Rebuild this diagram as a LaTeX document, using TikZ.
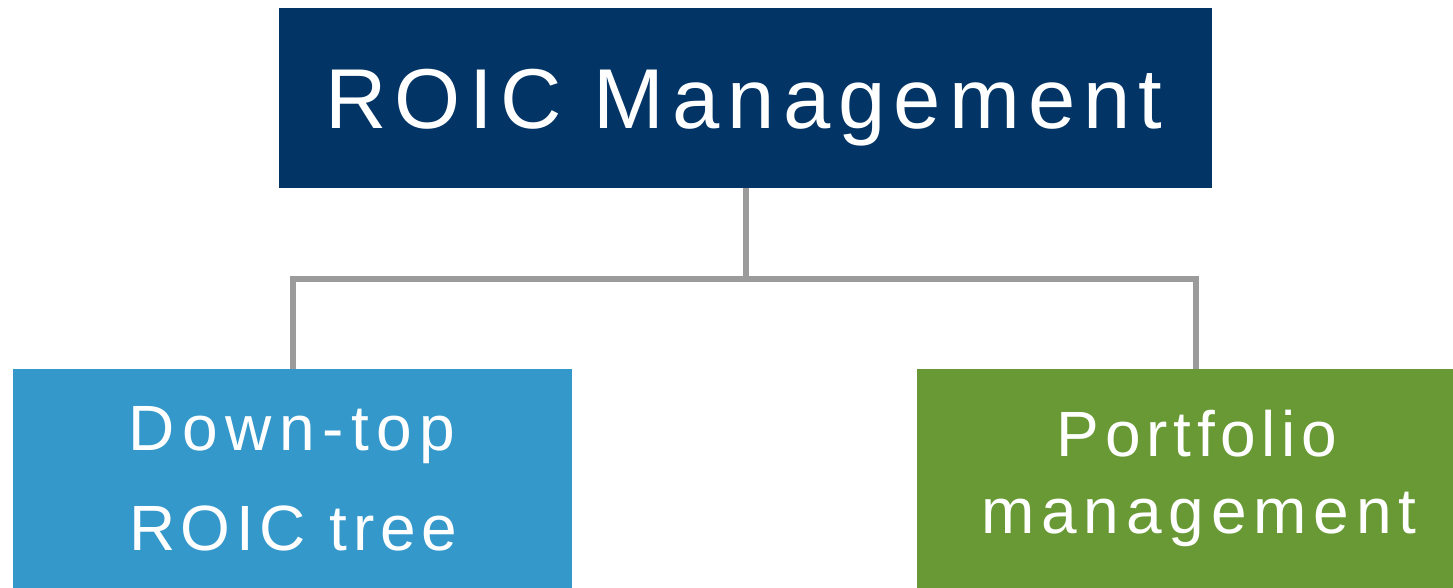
\documentclass[tikz,border=0pt]{standalone}
\usepackage{fontspec}
\setmainfont{Liberation Sans}
\newfontfamily\topfont[LetterSpace=9.5]{Liberation Sans}
\newfontfamily\subfont[LetterSpace=10.8]{Liberation Sans}
\newfontfamily\subfontwide[LetterSpace=11.9]{Liberation Sans}
\newfontfamily\subfontnarrow[LetterSpace=8.9]{Liberation Sans}
\definecolor{navy}{RGB}{2,52,101}
\definecolor{skyblue}{RGB}{53,152,203}
\definecolor{leafgreen}{RGB}{104,153,52}
\definecolor{conngray}{RGB}{155,155,155}
\tikzset{
  boxshape/.style={rectangle, inner sep=0pt, outer sep=0pt, draw=none},
  toptext/.style={anchor=base, inner sep=0pt, text=white, font=\topfont\fontsize{85}{100}\selectfont},
  subtext/.style={anchor=base, inner sep=0pt, text=white, font=\subfont\fontsize{64}{76}\selectfont},
  conn/.style={draw=conngray, line width=6pt, line join=miter}
}
\begin{document}
\begin{tikzpicture}[x=1pt,y=-1pt]
\clip (0,0) rectangle (1453,587);
\fill[white] (0,0) rectangle (1453,587);
% boxes
\node[boxshape, fill=navy, minimum width=933pt, minimum height=180pt] (top) at (745.5,98) {};
\node[boxshape, fill=skyblue, minimum width=559pt, minimum height=240pt] (left) at (292.5,489) {};
\node[boxshape, fill=leafgreen, minimum width=559pt, minimum height=240pt] (right) at (1196,489) {};
% texts
\node[toptext] (ttop) at (744,128) {ROIC Management};
\node[subtext, font=\subfontwide\fontsize{64}{76}\selectfont] (tl1) at (292,450) {Down-top};
\node[subtext, font=\subfontnarrow\fontsize{64}{76}\selectfont] (tl2) at (293,550) {ROIC tree};
\node[subtext, font=\subfontnarrow\fontsize{64}{76}\selectfont] (tr1) at (1197,456) {Portfolio};
\node[subtext] (tr2) at (1199,533) {management};
% connectors
\coordinate (mid) at (745.5,278.5);
\draw[conn] (top.south) -- (mid);
\draw[conn] (left.north) |- (mid) -| (right.north);
\end{tikzpicture}
\end{document}
